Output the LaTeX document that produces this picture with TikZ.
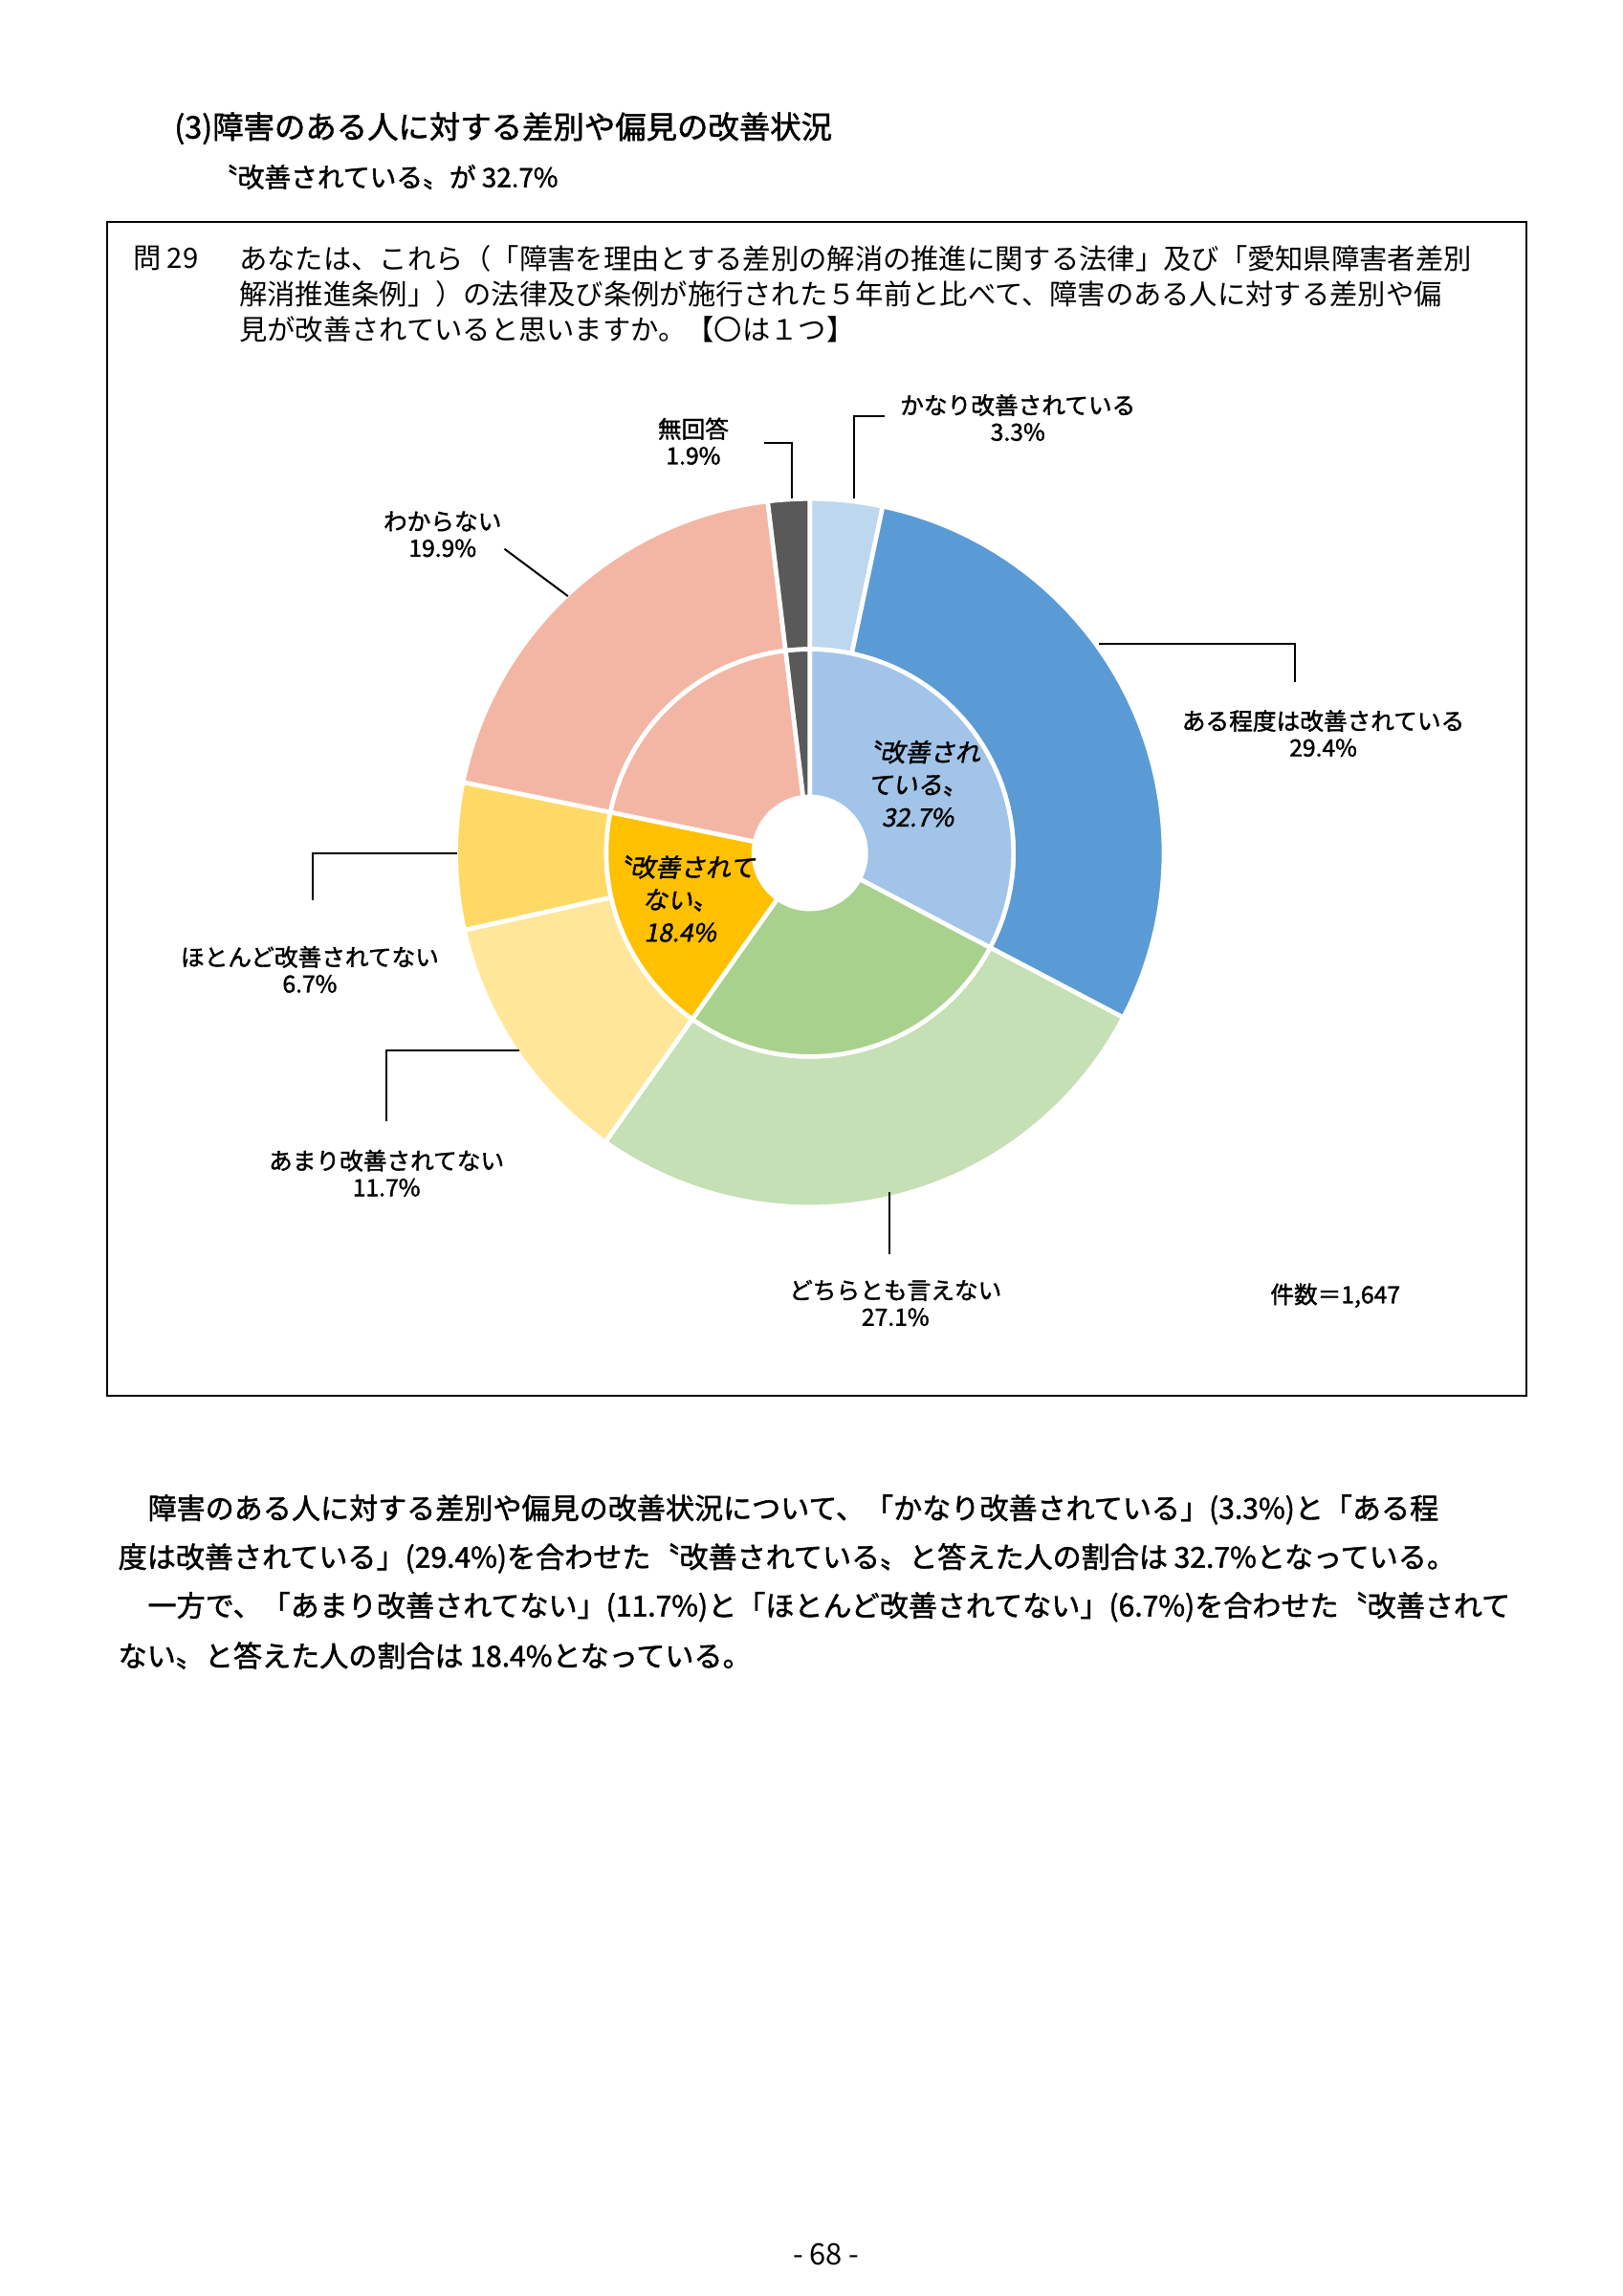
\documentclass[tikz,border=0pt]{standalone}
\usepackage{fontspec}
\setmainfont{Noto Sans CJK JP}[AutoFakeBold=1.5]
\newfontfamily\slantjp{Noto Sans CJK JP}[FakeSlant=0.2,FakeBold=1.5]
\begin{document}
\begin{tikzpicture}[x=1pt,y=-1pt,
  lbl/.style={font=\fontsize{16}{18}\selectfont\bfseries,align=center,inner sep=1pt},
  lead/.style={draw=black,line width=1.3pt},
  txt/.style={anchor=west,inner sep=0pt,font=\fontsize{19}{22}\selectfont},
  inl/.style={font=\fontsize{17}{22}\selectfont\slantjp,align=center,inner sep=1pt}]
\useasboundingbox (0,0) rectangle (1100,1556);
\fill[white] (0,0) rectangle (1100,1556);
\node[txt,font=\fontsize{21}{24}\selectfont\bfseries] (t1) at (118,87) {(3)障害のある人に対する差別や偏見の改善状況};
\node[txt,font=\fontsize{18}{22}\selectfont\bfseries] (t2) at (143,120) {〝改善されている〟が 32.7\%};
\node[draw,line width=1.3pt,minimum width=962pt,minimum height=795pt,anchor=north west,outer sep=0pt] (box) at (72.6,150.6) {};
\node[txt] (q0) at (90,175) {問 29};
\node[txt] (q1) at (162,175) {あなたは、これら（「障害を理由とする差別の解消の推進に関する法律」及び「愛知県障害者差別};
\node[txt] (q2) at (162,199) {解消推進条例」）の法律及び条例が施行された５年前と比べて、障害のある人に対する差別や偏};
\node[txt] (q3) at (162,223) {見が改善されていると思いますか。【〇は１つ】};
\begin{scope}[shift={(549,578)}]
\foreach \a/\b/\c in {0/3.3/BDD7EE,3.3/32.7/5B9BD5,32.7/59.8/C5E0B4,59.8/71.5/FFE699,71.5/78.2/FFD966,78.2/98.1/F4B6A4,98.1/100/595959}{
  \definecolor{cc}{HTML}{\c}
  \pgfmathsetmacro\sa{-90+\a*3.6}\pgfmathsetmacro\ea{-90+\b*3.6}
  \filldraw[fill=cc,draw=white,line width=3pt] (\sa:138) -- (\sa:240) arc[start angle=\sa,end angle=\ea,radius=240] -- (\ea:138) arc[start angle=\ea,end angle=\sa,radius=138] -- cycle;
}
\foreach \a/\b/\c in {0/32.7/A1C4E8,32.7/59.8/A9D18E,59.8/78.2/FFC000,78.2/98.1/F4B6A4,98.1/100/595959}{
  \definecolor{cc}{HTML}{\c}
  \pgfmathsetmacro\sa{-90+\a*3.6}\pgfmathsetmacro\ea{-90+\b*3.6}
  \filldraw[fill=cc,draw=white,line width=3pt] (\sa:38) -- (\sa:138) arc[start angle=\sa,end angle=\ea,radius=138] -- (\ea:38) arc[start angle=\ea,end angle=\sa,radius=38] -- cycle;
}
\end{scope}
\node[inl] (i1) at (622,531) {〝改善され\\ている〟\\32.7\%};
\node[inl] (i2) at (461,609) {〝改善されて\\ない〟\\18.4\%};
\node[lbl] (l1) at (690,283) {かなり改善されている\\3.3\%};
\node[lbl] (l2) at (470,299) {無回答\\1.9\%};
\node[lbl] (l3) at (300,362) {わからない\\19.9\%};
\node[lbl] (l4) at (897,497) {ある程度は改善されている\\29.4\%};
\node[lbl] (l5) at (210,657) {ほとんど改善されてない\\6.7\%};
\node[lbl] (l6) at (262,795) {あまり改善されてない\\11.7\%};
\node[lbl] (l7) at (607,883) {どちらとも言えない\\27.1\%};
\node[lbl,anchor=west] (n) at (860,878) {件数＝1,647};
\coordinate (p1) at (579,338); \coordinate (p2) at (537,338); \coordinate (p3) at (385,404);
\coordinate (p4) at (745,436); \coordinate (p5) at (310,578); \coordinate (p6) at (352,712); \coordinate (p7) at (603,808);
\draw[lead] (p1) -- (579,282) -- (600,282);
\draw[lead] (p2) -- (537,300) -- (518,300);
\draw[lead] (p3) -- (342,372);
\draw[lead] (p4) -- (878,436) -- (878,462);
\draw[lead] (p5) -- (212,578) -- (212,610);
\draw[lead] (p6) -- (262,712) -- (262,760);
\draw[lead] (p7) -- (603,850);
\begin{scope}[every node/.style={txt,font=\fontsize{19.5}{22}\selectfont\bfseries}]
\node (b1) at (100,1023) {障害のある人に対する差別や偏見の改善状況について、「かなり改善されている」(3.3\%)と「ある程};
\node (b2) at (80,1056) {度は改善されている」(29.4\%)を合わせた〝改善されている〟と答えた人の割合は 32.7\%となっている。};
\node (b3) at (100,1089) {一方で、「あまり改善されてない」(11.7\%)と「ほとんど改善されてない」(6.7\%)を合わせた〝改善されて};
\node (b4) at (80,1122) {ない〟と答えた人の割合は 18.4\%となっている。};
\end{scope}
\node[font=\fontsize{20}{22}\selectfont] (pg) at (560,1528) {- 68 -};
\end{tikzpicture}
\end{document}
